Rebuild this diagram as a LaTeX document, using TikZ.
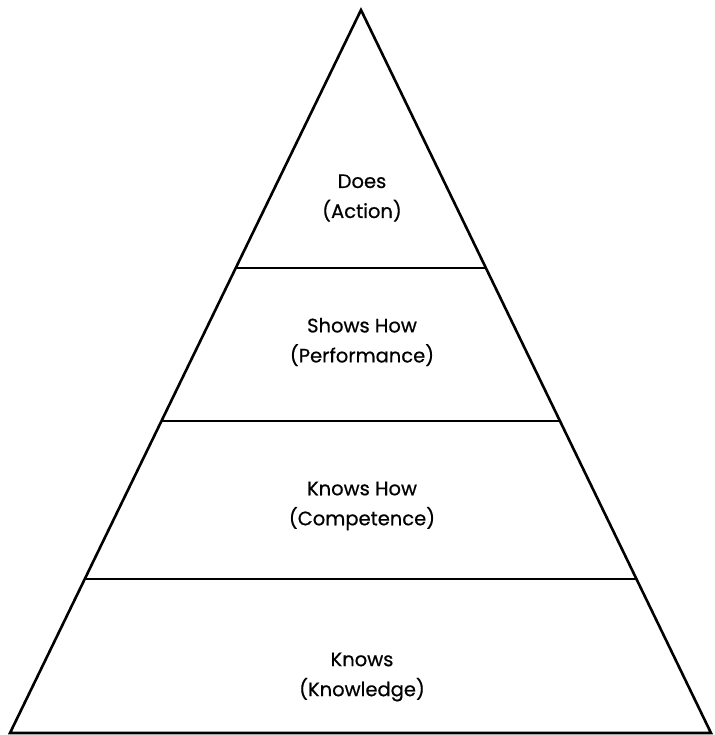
\documentclass[tikz,border=0pt]{standalone}
\usepackage{fontspec}
\newfontfamily\lblfont[FakeBold=0.6]{Poppins}
\usetikzlibrary{calc}
\begin{document}
\begin{tikzpicture}[x=1pt,y=-1pt,
  edge/.style={line width=2.6pt, line join=miter},
  tier/.style={line width=2.2pt},
  label/.style={align=center, font=\lblfont\fontsize{19.5}{30}\selectfont, inner sep=0pt}]
\useasboundingbox (0,0) rectangle (714,735);
% corners of the pyramid
\coordinate (apex) at (361,10);
\coordinate (bl) at (10,733);
\coordinate (br) at (711,733);
\draw[edge] (bl) -- (apex) -- (br) -- cycle;
% tier boundaries
\foreach \t/\n in {0.3568/a,0.5685/b,0.787/c}{
  \coordinate (l\n) at ($(apex)!\t!(bl)$);
  \coordinate (r\n) at ($(apex)!\t!(br)$);
}
\draw[tier] (la) -- (ra);
\draw[tier] (lb) -- (rb);
\draw[tier] (lc) -- (rc);
% tier labels
\node[label] (does)  at (362,198) {Does\\(Action)};
\node[label] (shows) at (362,342) {Shows How\\(Performance)};
\node[label] (kh)    at (362,506) {Knows How\\(Competence)};
\node[label] (knows) at (362,677) {Knows\\(Knowledge)};
\end{tikzpicture}
\end{document}
